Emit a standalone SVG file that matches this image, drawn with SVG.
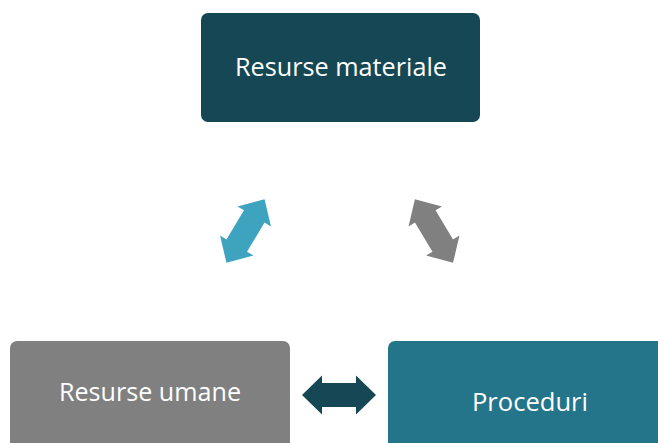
<svg xmlns="http://www.w3.org/2000/svg" width="658" height="443" viewBox="0 0 658 443">
<defs>
<style>
.lbl{font-family:"Open Sans","Noto Sans","Liberation Sans",sans-serif;font-size:26px;fill:#ffffff;text-anchor:middle}
</style>
<polygon id="dbl" points="-37,0 -17,-19.5 -17,-12 17,-12 17,-19.5 37,0 17,19.5 17,12 -17,12 -17,19.5"/>
</defs>
<rect width="658" height="443" fill="#ffffff"/>
<g id="node-materiale">
<rect x="201" y="13" width="279" height="109" rx="7" fill="#154854"/>
<text class="lbl" x="341" y="76" textLength="212" lengthAdjust="spacingAndGlyphs">Resurse materiale</text>
</g>
<g id="node-umane">
<rect x="10" y="341" width="280" height="120" rx="7" fill="#808080"/>
<text class="lbl" x="150" y="401" textLength="182" lengthAdjust="spacingAndGlyphs">Resurse umane</text>
</g>
<g id="node-proceduri">
<rect x="388" y="341" width="290" height="130" rx="7" fill="#25758A"/>
<text class="lbl" x="530" y="411" textLength="116" lengthAdjust="spacingAndGlyphs">Proceduri</text>
</g>
<g id="connectors">
<use href="#dbl" transform="translate(245.5,231) rotate(-59)" fill="#3DA3BE"/>
<use href="#dbl" transform="translate(434,231) rotate(59)" fill="#808080"/>
<use href="#dbl" transform="translate(339,395)" fill="#154854"/>
</g>
</svg>
